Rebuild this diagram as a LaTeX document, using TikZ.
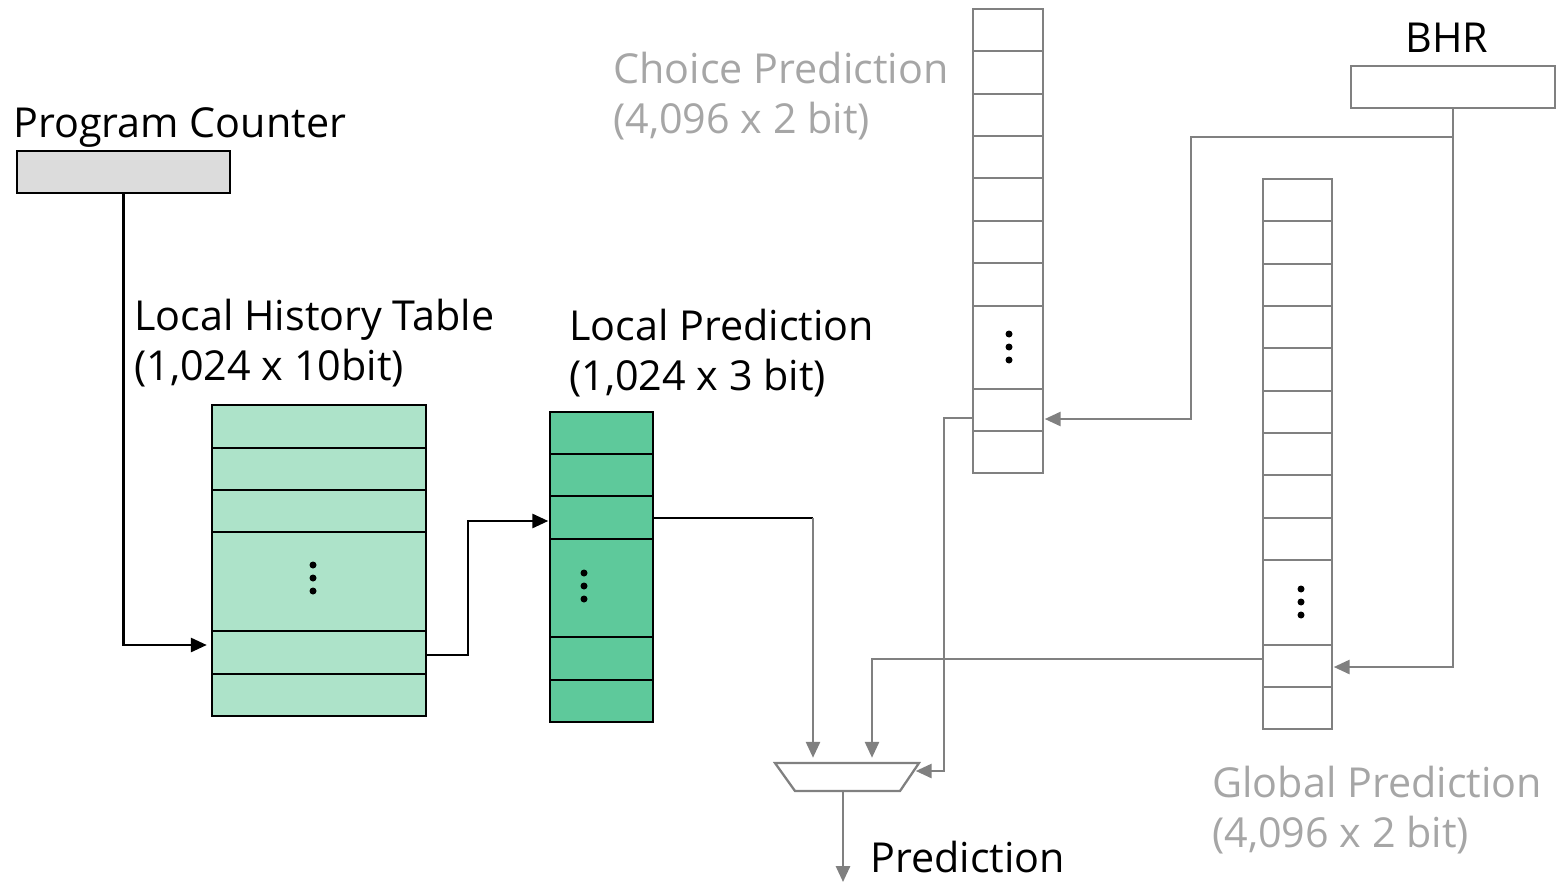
\documentclass[tikz,border=0pt]{standalone}
\usepackage{fontspec}
\setmainfont{Open Sans}
\usetikzlibrary{arrows.meta}
\definecolor{wire}{HTML}{808080}
\definecolor{faint}{HTML}{A6A6A6}
\definecolor{lhtfill}{HTML}{ADE3C9}
\definecolor{lpfill}{HTML}{5EC99B}
\definecolor{pcfill}{HTML}{DCDCDC}
\tikzset{
  blk/.style={draw=black, line width=1.3pt},
  gry/.style={draw=wire, line width=1.3pt},
  blkarrow/.style={blk, -{Triangle[length=9pt,width=8pt]}},
  gryarrow/.style={gry, -{Triangle[length=9pt,width=8pt]}, color=wire},
  tbl/.style={rectangle, inner sep=0pt, outer sep=0pt},
  % multi-line labels are placed by the baseline of their last line
  label/.style={anchor=base west, inner sep=0pt, align=left,
    font=\fontsize{23.5}{28.35}\selectfont},
  dot/.style={fill=black},
}
\begin{document}
\begin{tikzpicture}[x=0.02cm, y=-0.02cm]
\useasboundingbox (0,0) rectangle (1557,882);

% ---- program counter ----
\node[label] (pclabel) at (13,137) {Program Counter};
\node[tbl, blk, fill=pcfill, minimum width=4.26cm, minimum height=0.84cm] (pc) at (123.5,172) {};

% ---- local history table ----
\node[label] (lhtlabel) at (134,380) {Local History Table\\(1,024 x 10bit)};
\node[tbl, blk, fill=lhtfill, minimum width=4.28cm, minimum height=6.22cm] (lht) at (319,560.5) {};
\foreach \y in {448,490,532,631,674}
  \draw[blk] (lht.west |- 0,\y) -- (lht.east |- 0,\y);
\foreach \d in {-13,0,13}
  \fill[dot] (313,578+\d) circle (0.07cm);

% ---- local prediction ----
\node[label] (lplabel) at (569,390) {Local Prediction\\(1,024 x 3 bit)};
\node[tbl, blk, fill=lpfill, minimum width=2.06cm, minimum height=6.2cm] (lp) at (601.5,567) {};
\foreach \y in {454,496,539,637,680}
  \draw[blk] (lp.west |- 0,\y) -- (lp.east |- 0,\y);
\foreach \d in {-13,0,13}
  \fill[dot] (584,586+\d) circle (0.07cm);

% ---- choice prediction ----
\node[label, text=faint] (chlabel) at (613,133) {Choice Prediction\\(4,096 x 2 bit)};
\node[tbl, gry, fill=white, minimum width=1.4cm, minimum height=9.28cm] (ch) at (1008,241) {};
\foreach \y in {51,94,136,178,221,263,306,389,431}
  \draw[gry] (ch.west |- 0,\y) -- (ch.east |- 0,\y);
\foreach \d in {-13,0,13}
  \fill[dot] (1009,347+\d) circle (0.07cm);

% ---- global prediction ----
\node[label, text=faint] (gplabel) at (1212,847) {Global Prediction\\(4,096 x 2 bit)};
\node[tbl, gry, fill=white, minimum width=1.38cm, minimum height=11cm] (gp) at (1297.5,454) {};
\foreach \y in {221,264,306,348,391,433,475,518,560,645,687}
  \draw[gry] (gp.west |- 0,\y) -- (gp.east |- 0,\y);
\foreach \d in {-13,0,13}
  \fill[dot] (1301,602+\d) circle (0.07cm);

% ---- branch history register ----
\node[anchor=base, inner sep=0pt, font=\fontsize{23.5}{28.35}\selectfont] (bhrlabel) at (1447,53) {BHR};
\node[tbl, gry, fill=white, minimum width=4.08cm, minimum height=0.84cm] (bhr) at (1453,87) {};

% ---- selector (trapezoid, wide side up) ----
\draw[gry, fill=white] (775,763) -- (919,763) -- (900,791) -- (795,791) -- cycle;
\coordinate (muxin) at (914,771);
\coordinate (muxout) at (843,791);
\node[label] (predlabel) at (870,872) {Prediction};

% ---- connections ----
\draw[blkarrow, shorten >=3pt] (pc.south) |- (lht.west |- 0,645);
\draw[blkarrow, shorten >=1pt] (lht.east |- 0,655) -- (468,655) |- (lp.west |- 0,521);
\draw[blk] (lp.east |- 0,518) -- (813,518) coordinate (lpturn);
\draw[gryarrow, shorten >=3pt] (lpturn) -- (lpturn |- 0,763);
\draw[gryarrow, shorten >=1pt] (bhr.south) |- (1191,137) |- (ch.east |- 0,419);
\draw[gryarrow, shorten >=1pt] (bhr.south) |- (gp.east |- 0,667);
\draw[gryarrow, shorten >=3pt] (gp.west |- 0,659) -| (872,763);
\draw[gryarrow, shorten >=1pt] (ch.west |- 0,418) -| (944,771) -- (muxin);
\draw[gryarrow] (muxout) -- (muxout |- 0,882);
\end{tikzpicture}
\end{document}
